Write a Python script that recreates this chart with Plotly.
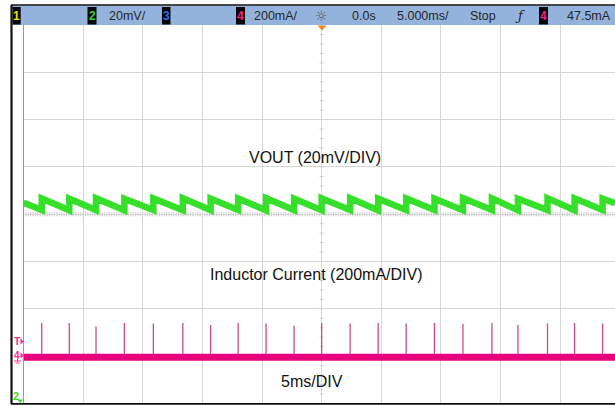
import plotly.graph_objects as go

# ---------------- data (ms / mV / mA) ----------------
# Switching pulses: times of each inductor-current pulse (also the VOUT step-up)
PULSE_T_MS = [-23.47, -21.16, -18.92, -16.54, -14.11, -11.64, -9.31, -7.00, -4.66, -2.31,
              0.00, 2.39, 4.74, 7.09, 9.46, 11.85, 14.28, 16.46, 18.94, 21.21, 23.56]
# Peak inductor current of each pulse (mA)
PULSE_PEAK_MA = [140, 140, 126, 140, 138, 140, 132, 140, 138, 130,
                 140, 138, 140, 138, 140, 136, 140, 132, 138, 140, 138]
# Inductor current baseline between pulses (mA)
CURRENT_BASE_MA = -4

# VOUT ripple (mV about screen centre): value just before and just after each step
VOUT_TROUGH_MV = [1.8, 1.7, 1.8, 1.7, 1.8, 1.7, 1.8, 1.8, 1.7, 1.8,
                  1.7, 1.8, 1.7, 1.8, 1.8, 1.7, 1.8, 1.7, 1.8, 1.7, 1.8]
VOUT_PEAK_MV = [6.7, 6.6, 6.8, 6.6, 6.7, 6.8, 6.6, 6.7, 6.8, 6.6,
                6.7, 6.8, 6.6, 6.7, 6.6, 6.8, 6.7, 6.6, 6.8, 6.7, 6.6]
VOUT_START_MV = 4.9
VOUT_END_MV = 4.7

# Screen window
T_RANGE_MS = [-25.0, 24.6]       # 5 ms/div, trigger at centre
I_RANGE_MA = [-200, 1400]        # 200 mA/div
V_RANGE_MV = [-80, 80]           # 20 mV/div

W, H = 615, 406


def fx(x):
    return x / W


def fy(y):
    return 1 - y / H


# ---------------- traces ----------------
fig = go.Figure()

# VOUT sawtooth
vx, vy = [T_RANGE_MS[0]], [VOUT_START_MV]
for t, lo, hi in zip(PULSE_T_MS, VOUT_TROUGH_MV, VOUT_PEAK_MV):
    vx += [t, t]
    vy += [lo, hi]
vx.append(T_RANGE_MS[1])
vy.append(VOUT_END_MV)
fig.add_trace(go.Scatter(x=vx, y=vy, yaxis="y2", mode="lines",
                         line=dict(color="#36e02a", width=6.5),
                         hoverinfo="skip", showlegend=False))

# Inductor current pulses
sx, sy = [], []
for t, pk in zip(PULSE_T_MS, PULSE_PEAK_MA):
    sx += [t, t, None]
    sy += [CURRENT_BASE_MA, pk, None]
fig.add_trace(go.Scatter(x=sx, y=sy, mode="lines",
                         line=dict(color="#cf4a86", width=1.3),
                         hoverinfo="skip", showlegend=False))

# Inductor current baseline (noise band)
fig.add_trace(go.Scatter(x=T_RANGE_MS, y=[CURRENT_BASE_MA, CURRENT_BASE_MA], mode="lines",
                         line=dict(color="#e6007e", width=7),
                         hoverinfo="skip", showlegend=False))

# ---------------- graticule fine ticks on centre lines ----------------
shapes = []
tick_col = "#cccccc"
centre_i = (I_RANGE_MA[0] + I_RANGE_MA[1]) / 2
k = -125
while k <= 123:
    t = k * 0.2
    shapes.append(dict(type="line", xref="x", yref="y", x0=t, x1=t,
                       y0=centre_i - 9, y1=centre_i + 9,
                       line=dict(color=tick_col, width=1), layer="below"))
    k += 1
k = -20
while k <= 20:
    v = centre_i + k * 40
    shapes.append(dict(type="line", xref="x", yref="y", x0=-0.17, x1=0.17,
                       y0=v, y1=v, line=dict(color=tick_col, width=1), layer="below"))
    k += 1

# ---------------- frame & header ----------------
def rect(x0, y0, x1, y1, fill, line_color=None, lw=0):
    shapes.append(dict(type="rect", xref="paper", yref="paper",
                       x0=fx(x0), x1=fx(x1), y0=fy(y1), y1=fy(y0),
                       fillcolor=fill, line=dict(color=line_color or fill, width=lw),
                       layer="above"))


def pline(x0, y0, x1, y1, color, w):
    shapes.append(dict(type="line", xref="paper", yref="paper",
                       x0=fx(x0), x1=fx(x1), y0=fy(y0), y1=fy(y1),
                       line=dict(color=color, width=w), layer="above"))


def tri(points, color):
    path = "M " + " L ".join(f"{fx(a)},{fy(b)}" for a, b in points) + " Z"
    shapes.append(dict(type="path", xref="paper", yref="paper", path=path,
                       fillcolor=color, line=dict(color=color, width=0), layer="above"))


rect(12, 5.5, W, 25, "#94b3dc")
pline(11, 5, W, 5, "#111111", 1.5)
pline(11.5, 5, 11.5, 404, "#111111", 2.2)
pline(11, 403.8, W, 403.8, "#111111", 1.8)

annotations = []
narrow = "Liberation Sans Narrow, Arial Narrow, Liberation Sans, Arial, sans-serif"


def ann(x, y, text, size, color, family=narrow, xanchor="center", bold=False):
    annotations.append(dict(xref="paper", yref="paper", x=fx(x), y=fy(y),
                            text=f"<b>{text}</b>" if bold else text,
                            showarrow=False, xanchor=xanchor, yanchor="middle",
                            font=dict(size=size, color=color, family=family)))


# channel badges
for x0, x1, label, col in [(12.7, 20.7, "1", "#e4e400"), (87.5, 96.5, "2", "#2fd42f"),
                           (162, 170.5, "3", "#2f6dff"), (236, 245, "4", "#ff1a8a"),
                           (539, 548, "4", "#ff1a8a")]:
    rect(x0, 7, x1, 24.5, "#050505")
    ann((x0 + x1) / 2, 16, label, 12, col, bold=True)

hdr = "#262626"
ann(127.5, 15.5, "20mV/", 12.5, hdr)
ann(276, 15.5, "200mA/", 12.5, hdr)
ann(321, 15.5, "☼", 14, "#555555", family="DejaVu Sans")
ann(363.5, 15.5, "0.0s", 12.5, hdr)
ann(422.5, 15.5, "5.000ms/", 12.5, hdr)
ann(483, 15.5, "Stop", 12.5, hdr)
ann(520, 15.5, "<i>ƒ</i>", 13, hdr, family="DejaVu Serif")
ann(589, 15.5, "47.5mA", 12.5, hdr)

# trigger position marker
tri([(317.5, 25.5), (326.5, 25.5), (322, 30.5)], "#f08a1c")

# left-edge channel markers
pink = "#ff2b8e"
ann(17.5, 341, "T", 10.5, pink, family="Liberation Sans, Arial, sans-serif", bold=True)
tri([(20.5, 338.5), (24, 341.5), (20.5, 344.5)], pink)
ann(16.5, 355.5, "4", 10, pink, family="Liberation Sans, Arial, sans-serif", bold=True)
tri([(20.5, 352.5), (24, 355.5), (20.5, 358.5)], pink)
pline(14, 361, 21, 361, pink, 1)
pline(15.5, 363, 19.5, 363, pink, 1)
pline(17.5, 359, 17.5, 361, pink, 1)
green = "#33dd22"
ann(16, 395.5, "2", 10.5, green, family="Liberation Sans, Arial, sans-serif", bold=True)
tri([(17.5, 399.5), (23, 399.5), (20.2, 403)], green)

# scale labels
lab = "Liberation Sans, Arial, Helvetica, sans-serif"
ann(315, 157, "VOUT (20mV/DIV)", 16, "#111111", family=lab)
ann(316, 274, "Inductor Current (200mA/DIV)", 16, "#111111", family=lab)
ann(311.5, 381, "5ms/DIV", 16, "#111111", family=lab)

# ---------------- layout ----------------
grid = "#d6d6d6"
fig.update_layout(
    width=W, height=H, margin=dict(l=0, r=0, t=0, b=0),
    paper_bgcolor="white", plot_bgcolor="white",
    xaxis=dict(domain=[23.5 / W, 1], range=T_RANGE_MS, dtick=5, tick0=0,
               showgrid=True, gridcolor=grid, gridwidth=1, zeroline=False,
               showticklabels=False, ticks="", showline=False, fixedrange=True),
    yaxis=dict(domain=[fy(403.5), fy(25)], range=I_RANGE_MA, dtick=200, tick0=0,
               showgrid=True, gridcolor=grid, gridwidth=1, zeroline=False,
               showticklabels=False, ticks="", showline=True, linecolor="#9a9a9a",
               linewidth=1, fixedrange=True),
    yaxis2=dict(domain=[fy(403.5), fy(25)], range=V_RANGE_MV, overlaying="y",
                showgrid=False, zeroline=False, showticklabels=False, ticks="",
                showline=False, fixedrange=True),
    shapes=shapes, annotations=annotations, showlegend=False,
)

fig.write_html("out.html")
